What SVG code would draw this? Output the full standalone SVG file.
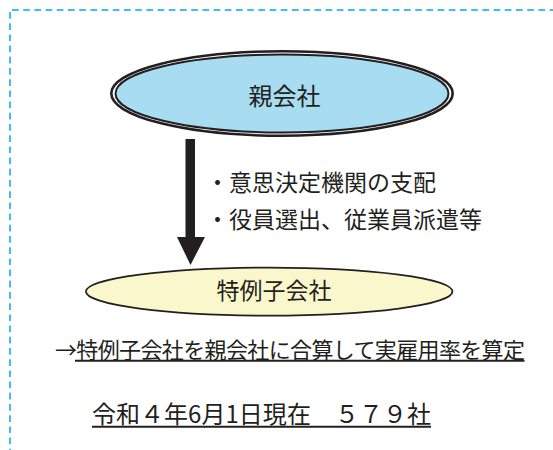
<svg xmlns="http://www.w3.org/2000/svg" width="553" height="450" viewBox="0 0 553 450">
<style>
.border{fill:none;stroke:#3cc0ec;stroke-width:2;stroke-dasharray:6.7 4.5}
.t{font-family:"Noto Sans CJK JP","Noto Sans",sans-serif;fill:#231f20}
.ul{stroke:#231f20;stroke-width:2}
</style>
<rect width="553" height="450" fill="#ffffff"/>
<g id="frame">
<line class="border" x1="12" y1="10" x2="553" y2="10"/>
<line class="border" x1="10" y1="12" x2="10" y2="450"/>
</g>
<g id="connectors">
<path d="M185.5,139 H195 V237 H205 L190.5,265 L177,237 H185.5 Z" fill="#231f20"/>
<text class="t" x="206" y="190.5" font-size="23" textLength="230" lengthAdjust="spacing">・意思決定機関の支配</text>
<text class="t" x="206" y="227.5" font-size="23" textLength="276" lengthAdjust="spacing">・役員選出、従業員派遣等</text>
</g>
<g id="parent">
<ellipse cx="282" cy="93.5" rx="170.7" ry="42.2" fill="#ffffff" stroke="#231f20" stroke-width="2.6"/>
<ellipse cx="282" cy="93.5" rx="166.5" ry="39" fill="#a8dcf0" stroke="#231f20" stroke-width="2"/>
<text class="t" x="284.5" y="105.3" font-size="24" text-anchor="middle" fill="#263f4c">親会社</text>
</g>
<g id="child">
<ellipse cx="269.2" cy="291.6" rx="183.3" ry="24" fill="#fbf7cc" stroke="#231f20" stroke-width="1.8"/>
<text class="t" x="274" y="299.3" font-size="23" text-anchor="middle">特例子会社</text>
</g>
<g id="note">
<text class="t" x="55" y="358.3" font-size="22" textLength="470" lengthAdjust="spacing">→特例子会社を親会社に合算して実雇用率を算定</text>
<line class="ul" x1="75" y1="360.8" x2="524.5" y2="360.8"/>
</g>
<g id="count">
<text class="t" x="92" y="423.3" font-size="24" textLength="339" lengthAdjust="spacing">令和４年6月1日現在　５７９社</text>
<line class="ul" x1="92" y1="426.8" x2="431" y2="426.8"/>
</g>
</svg>
